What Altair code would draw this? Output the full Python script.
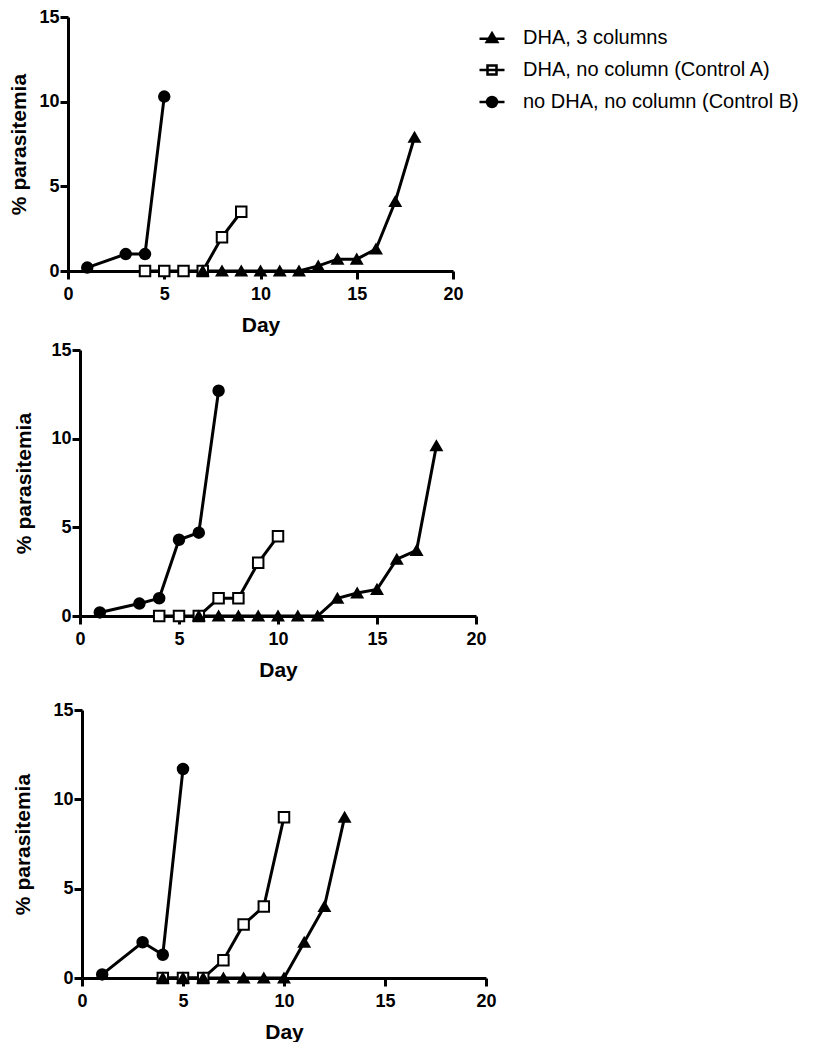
import altair as alt
import pandas as pd

FONT = "Liberation Sans"
SERIES = ["DHA, 3 columns", "DHA, no column (Control A)", "no DHA, no column (Control B)"]
SHAPES = ["triangle-up", "square", "circle"]
FILLS = ["black", "white", "black"]
STROKES = ["black", "black", "black"]
LEGEND_SHAPES = [
    "M-2.5,0.15H2.5M0,-0.95L1.05,0.8H-1.05Z",
    "M-2.5,0H2.5M-0.9,-0.9H0.9V0.9H-0.9Z",
    "M-2.5,0H2.5M-1,0A1,1,0,1,0,1,0A1,1,0,1,0,-1,0Z",
]

# Panel 1
p1_b_day = [1, 3, 4, 5]
p1_b_val = [0.2, 1.0, 1.0, 10.3]
p1_a_day = [4, 5, 6, 7, 8, 9]
p1_a_val = [0, 0, 0, 0, 2.0, 3.5]
p1_d_day = [7, 8, 9, 10, 11, 12, 13, 14, 15, 16, 17, 18]
p1_d_val = [0, 0, 0, 0, 0, 0, 0.3, 0.7, 0.7, 1.3, 4.1, 7.9]

# Panel 2
p2_b_day = [1, 3, 4, 5, 6, 7]
p2_b_val = [0.2, 0.7, 1.0, 4.3, 4.7, 12.7]
p2_a_day = [4, 5, 6, 7, 8, 9, 10]
p2_a_val = [0, 0, 0, 1.0, 1.0, 3.0, 4.5]
p2_d_day = [6, 7, 8, 9, 10, 11, 12, 13, 14, 15, 16, 17, 18]
p2_d_val = [0, 0, 0, 0, 0, 0, 0, 1.0, 1.3, 1.5, 3.2, 3.7, 9.6]

# Panel 3
p3_b_day = [1, 3, 4, 5]
p3_b_val = [0.2, 2.0, 1.3, 11.7]
p3_a_day = [4, 5, 6, 7, 8, 9, 10]
p3_a_val = [0, 0, 0, 1.0, 3.0, 4.0, 9.0]
p3_d_day = [4, 5, 6, 7, 8, 9, 10, 11, 12, 13]
p3_d_val = [0, 0, 0, 0, 0, 0, 0, 2.0, 4.0, 9.0]


def frame(b_day, b_val, a_day, a_val, d_day, d_val):
    rows = []
    for d, v in zip(b_day, b_val):
        rows.append({"day": d, "val": v, "series": SERIES[2]})
    for d, v in zip(a_day, a_val):
        rows.append({"day": d, "val": v, "series": SERIES[1]})
    for d, v in zip(d_day, d_val):
        rows.append({"day": d, "val": v, "series": SERIES[0]})
    return pd.DataFrame(rows)


def panel(df, w, h, ytp, shift):
    common = dict(grid=False, tickSize=8, tickWidth=3, domainWidth=3, domainColor="black",
                  tickColor="black", labelColor="black", titleColor="black",
                  labelFont=FONT, titleFont=FONT, labelFontSize=18,
                  labelFontWeight="bold", titleFontSize=21, titleFontWeight="bold",
                  labelFlush=False)
    x = alt.X("day:Q", scale=alt.Scale(domain=[0, 20], nice=False, range=[shift, shift + w]),
              axis=alt.Axis(values=[0, 5, 10, 15, 20], title="Day",
                            labelPadding=6, titlePadding=11, **common))
    y = alt.Y("val:Q", scale=alt.Scale(domain=[0, 15], nice=False),
              axis=alt.Axis(values=[0, 5, 10, 15], title="% parasitemia",
                            labelPadding=1, titlePadding=ytp, offset=-shift, **common))
    base = alt.Chart(df)
    lines = base.mark_line(color="black", strokeWidth=3).encode(x=x, y=y, detail="series:N")
    pts = base.mark_point(filled=True, size=110, stroke="black", strokeWidth=2,
                          opacity=1).encode(
        x=x, y=y,
        shape=alt.Shape("series:N", scale=alt.Scale(domain=SERIES, range=SHAPES), legend=None),
        fill=alt.Fill("series:N", scale=alt.Scale(domain=SERIES, range=FILLS), legend=None),
    )
    return alt.layer(lines, pts).properties(width=shift + w, height=h)


leg = alt.Legend(orient="none", legendX=18, legendY=11, title=None,
                 labelFont=FONT, labelFontSize=20, labelColor="black",
                 symbolSize=100, symbolStrokeWidth=2.5, symbolStrokeColor="black",
                 labelOffset=21, rowPadding=12, padding=0, labelLimit=400)
legend_chart = alt.Chart(pd.DataFrame({"series": SERIES})).mark_point(
    filled=False, size=100, stroke="black", strokeWidth=2.5, opacity=1
).encode(
    shape=alt.Shape("series:N", scale=alt.Scale(domain=SERIES, range=LEGEND_SHAPES), legend=leg),
    fill=alt.Fill("series:N", scale=alt.Scale(domain=SERIES, range=FILLS), legend=leg),
    stroke=alt.Stroke("series:N", scale=alt.Scale(domain=SERIES, range=STROKES), legend=leg),
).transform_filter("false").properties(width=1, height=1)

p1 = panel(frame(p1_b_day, p1_b_val, p1_a_day, p1_a_val, p1_d_day, p1_d_val), 385, 254, 9, 0)
p2 = panel(frame(p2_b_day, p2_b_val, p2_a_day, p2_a_val, p2_d_day, p2_d_val), 396, 266, 16, 12)
p3 = panel(frame(p3_b_day, p3_b_val, p3_a_day, p3_a_val, p3_d_day, p3_d_val), 404, 268, 19, 14)

res = dict(x="independent", y="independent", shape="independent", fill="independent",
           stroke="independent")
row1 = alt.hconcat(p1, legend_chart, spacing=0).resolve_scale(**res)
top = alt.vconcat(row1, p2, spacing=6).resolve_scale(**res)
chart = alt.vconcat(top, p3, spacing=21).resolve_scale(**res).properties(
    padding=0).configure_view(stroke=None)

chart.save("out.html", embed_options={"renderer": "svg", "actions": False})
